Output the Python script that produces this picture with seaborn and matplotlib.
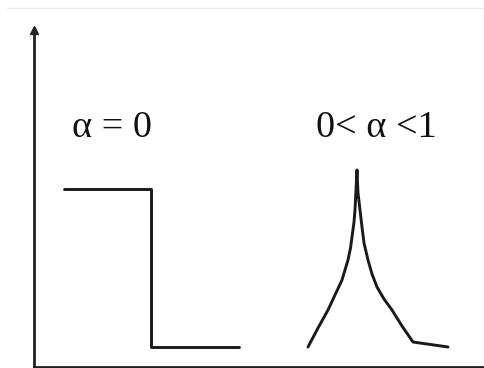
import seaborn as sns
import matplotlib.pyplot as plt
import pandas as pd

# Sketch values (arbitrary units, origin at the axes corner)
step_x = [30, 117, 117, 205]
step_y = [178, 178, 20, 20]

peak_x = [274, 284, 294, 301, 308, 311, 314, 316.5, 318, 320, 321, 322, 323,
          324, 326, 328, 330, 334, 338, 343, 350, 358, 368, 379, 414]
peak_y = [20, 39, 57, 72, 87, 97, 107, 119, 130, 145, 157, 177, 197,
          174, 157, 140, 124, 107, 93, 80, 68, 57, 41, 25, 20]

labels = ["α = 0", "0< α <1"]
label_x = [38, 282]
label_y = [230, 230]

sns.set_style("white")

fig = plt.figure(figsize=(4.85, 3.68), dpi=100)
ax = fig.add_axes([34 / 485, 1 / 368, 451 / 485, 337 / 368])

line_kw = dict(color="#1a1a1a", linewidth=2.1, sort=False, estimator=None, ax=ax)
sns.lineplot(data=pd.DataFrame({"x": step_x, "y": step_y}), x="x", y="y", **line_kw)
sns.lineplot(data=pd.DataFrame({"x": peak_x, "y": peak_y}), x="x", y="y", **line_kw)

for txt, tx, ty in zip(labels, label_x, label_y):
    ax.text(tx, ty, txt, fontsize=27.5, family="Liberation Serif",
            ha="left", va="baseline", color="#111111")

ax.set_xlim(0, 451)
ax.set_ylim(0, 337)
ax.set_xticks([])
ax.set_yticks([])
ax.set_xlabel("")
ax.set_ylabel("")
for side in ["top", "right"]:
    ax.spines[side].set_visible(False)
for side in ["left", "bottom"]:
    ax.spines[side].set_linewidth(2.0)
    ax.spines[side].set_color("#222222")

# arrow head on the vertical axis
ax.plot(0, 1, marker="^", markersize=6, color="#222222",
        transform=ax.transAxes, clip_on=False)

# faint border line along the top
fig.add_artist(plt.Line2D([7 / 485, 1], [1 - 8 / 368, 1 - 8 / 368],
                          color="#eeeeee", linewidth=1.0))

fig.savefig("out.png", dpi=100)
